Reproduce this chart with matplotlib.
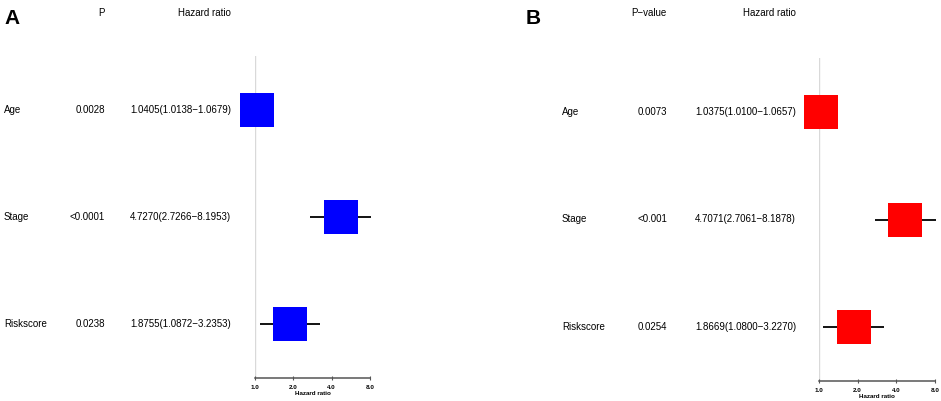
import matplotlib
matplotlib.use("Agg")
import matplotlib.pyplot as plt
from matplotlib import transforms

plt.rcParams['font.family'] = ['Liberation Sans', 'DejaVu Sans']

# data
variables = ["Age", "Stage", "Riskscore"]
row_y = [3, 2, 1]

p_a = ["0.0028", "<0.0001", "0.0238"]
hr_a = [1.0405, 4.7270, 1.8755]
lo_a = [1.0138, 2.7266, 1.0872]
hi_a = [1.0679, 8.1953, 3.2353]

p_b = ["0.0073", "<0.001", "0.0254"]
hr_b = [1.0375, 4.7071, 1.8669]
lo_b = [1.0100, 2.7061, 1.0800]
hi_b = [1.0657, 8.1878, 3.2270]

ticks = [1, 2, 4, 8]
tick_labels = ["1.0", "2.0", "4.0", "8.0"]

W, H = 941, 401
fig = plt.figure(figsize=(W / 100, H / 100), dpi=100)


def fx(px):
    return px / W


def fy(py):
    return 1 - py / H


def panel(letter, letter_x, ax_box, label_x, p_x, hr_x, p_head,
          p_vals, hr, lo, hi, color):
    x0, x1, ytop, ybot = ax_box
    ax = fig.add_axes([fx(x0), fy(ybot), fx(x1 - x0), fy(ytop) - fy(ybot)])
    ax.set_xscale('log', base=2)
    ax.set_xlim(1, 8)
    ax.set_ylim(0.5, 3.5)
    ax.axvline(1, color='#d9d9d9', lw=1, zorder=0)
    ax.hlines(row_y, lo, hi, color='black', lw=1.3, zorder=1, clip_on=False)
    ax.scatter(hr, row_y, marker='s', s=565, color=color, linewidths=0,
               zorder=2, clip_on=False)
    for s in ['top', 'right', 'left']:
        ax.spines[s].set_visible(False)
    ax.spines['bottom'].set_bounds(1, 8)
    ax.spines['bottom'].set_color('#555555')
    ax.spines['bottom'].set_linewidth(1.1)
    ax.set_yticks([])
    ax.set_xticks(ticks)
    ax.set_xticklabels(tick_labels, fontsize=4.5, fontweight='bold')
    ax.minorticks_off()
    ax.tick_params(axis='x', direction='inout', length=3, width=0.8,
                   color='#555555', pad=3.5)
    ax.set_xlabel('Hazard ratio', fontsize=4.5, fontweight='bold', labelpad=1)
    ax.patch.set_visible(False)

    tr = transforms.blended_transform_factory(fig.transFigure, ax.transData)
    fig.text(fx(letter_x), fy(18), letter, fontsize=15, fontweight='bold',
             ha='left', va='center')
    fig.text(fx(p_x), fy(13), p_head, fontsize=7, ha='right', va='center')
    fig.text(fx(hr_x), fy(13), 'Hazard ratio', fontsize=7, ha='right',
             va='center')
    for i in range(len(variables)):
        ax.text(fx(label_x), row_y[i], variables[i], transform=tr,
                fontsize=7, ha='left', va='center')
        ax.text(fx(p_x), row_y[i], p_vals[i], transform=tr,
                fontsize=7, ha='right', va='center')
        txt = "%.4f(%.4f\u2212%.4f)" % (hr[i], lo[i], hi[i])
        ax.text(fx(hr_x), row_y[i], txt, transform=tr,
                fontsize=7, ha='right', va='center')
    return ax


panel('A', 4, (255, 370, 56, 378), 4, 105, 231, 'P',
      p_a, hr_a, lo_a, hi_a, '#0000ff')
panel('B', 526, (819, 935, 58, 381), 562, 667, 796, 'P\u2212value',
      p_b, hr_b, lo_b, hi_b, '#ff0000')

fig.savefig('out.png', dpi=100)
